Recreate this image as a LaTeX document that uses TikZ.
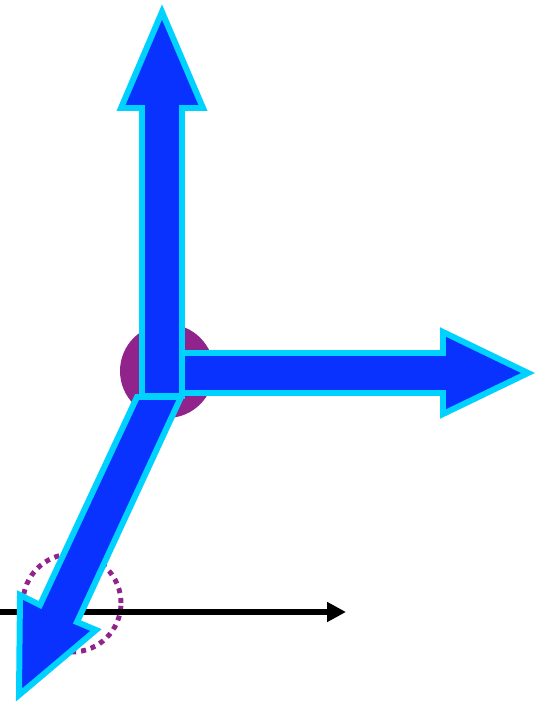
\documentclass[tikz,border=0pt]{standalone}
\usetikzlibrary{arrows.meta}

\definecolor{arrowblue}{RGB}{10,50,255}
\definecolor{rimcyan}{RGB}{0,210,255}
\definecolor{jointpurple}{RGB}{145,35,140}

\tikzset{
  fatarrow/.style={fill=arrowblue,draw=rimcyan,line width=3.4pt,line join=miter},
  contact/.style={draw=jointpurple,line width=2.8pt,dash pattern=on 0.1cm off 0.1cm},
}

\begin{document}
\begin{tikzpicture}[x=0.02cm,y=-0.02cm,>={Triangle[length=0.38cm,width=0.38cm]}]
  \useasboundingbox (0,0) rectangle (534,702);
  \coordinate (joint) at (167,371);
  \coordinate (touch) at (72,603);
  % contact circle and ground line
  \draw[contact] (touch) circle (0.98cm);
  \draw[->,line width=3pt] (0,612) -- (346,612);
  \fill[jointpurple] (joint) circle (0.94cm);
  % the three fat arrows
  \draw[fatarrow] (182,353) -- (443,353) -- (443,332) -- (528,373)
    -- (443,414) -- (443,393) -- (182,393) -- cycle;
  \draw[fatarrow] (137,397) -- (181,397) -- (77,622) -- (96,630)
    -- (19,695) -- (20,595) -- (40,605) -- cycle;
  \draw[fatarrow] (142,396) -- (142,108) -- (121,108) -- (162,12)
    -- (203,108) -- (182,108) -- (182,396) -- cycle;
\end{tikzpicture}
\end{document}
